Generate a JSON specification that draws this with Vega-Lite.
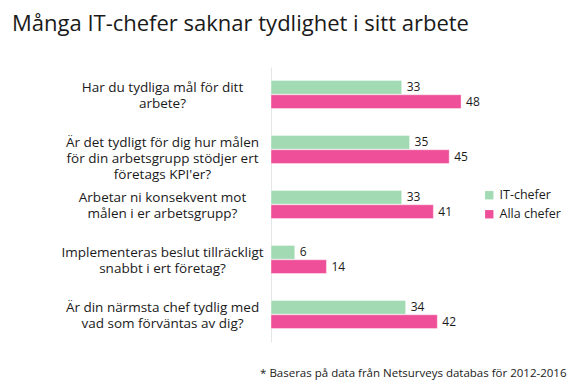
{
  "$schema": "https://vega.github.io/schema/vega-lite/v6.json",
  "width": 295,
  "height": 275,
  "autosize": {"type": "none"},
  "padding": {"left": 271, "top": 67, "right": 10, "bottom": 42},
  "background": "white",
  "config": {"font": "Open Sans", "view": {"stroke": null}},
  "title": {
    "text": "Många IT-chefer saknar tydlighet i sitt arbete",
    "anchor": "start",
    "frame": "group",
    "dx": -259,
    "offset": 14,
    "baseline": "alphabetic",
    "fontSize": 22,
    "fontWeight": "normal",
    "color": "#1a1a1a"
  },
  "data": {
    "values": [
      {"q": "Har du tydliga mål för ditt|arbete?", "serie": "IT-chefer", "v": 33},
      {"q": "Har du tydliga mål för ditt|arbete?", "serie": "Alla chefer", "v": 48},
      {"q": "Är det tydligt för dig hur målen|för din arbetsgrupp stödjer ert|företags KPI'er?", "serie": "IT-chefer", "v": 35},
      {"q": "Är det tydligt för dig hur målen|för din arbetsgrupp stödjer ert|företags KPI'er?", "serie": "Alla chefer", "v": 45},
      {"q": "Arbetar ni konsekvent mot|målen i er arbetsgrupp?", "serie": "IT-chefer", "v": 33},
      {"q": "Arbetar ni konsekvent mot|målen i er arbetsgrupp?", "serie": "Alla chefer", "v": 41},
      {"q": "Implementeras beslut tillräckligt|snabbt i ert företag?", "serie": "IT-chefer", "v": 6},
      {"q": "Implementeras beslut tillräckligt|snabbt i ert företag?", "serie": "Alla chefer", "v": 14},
      {"q": "Är din närmsta chef tydlig med|vad som förväntas av dig?", "serie": "IT-chefer", "v": 34},
      {"q": "Är din närmsta chef tydlig med|vad som förväntas av dig?", "serie": "Alla chefer", "v": 42}
    ]
  },
  "encoding": {
    "y": {
      "field": "q",
      "type": "nominal",
      "sort": null,
      "scale": {"paddingInner": 0.49, "paddingOuter": 0.245},
      "axis": {
        "title": null,
        "ticks": false,
        "domainColor": "#e6e6e6",
        "domainWidth": 1,
        "labelExpr": "split(datum.label, '|')",
        "labelAlign": "center",
        "labelPadding": 109,
        "labelOffset": -7,
        "labelFontSize": 13.5,
        "labelLineHeight": 16,
        "labelColor": "#1a1a1a",
        "labelLimit": 300
      }
    },
    "yOffset": {
      "field": "serie",
      "type": "nominal",
      "sort": ["IT-chefer", "Alla chefer"],
      "scale": {"paddingInner": 0.04}
    },
    "x": {
      "field": "v",
      "type": "quantitative",
      "scale": {"domain": [0, 74.5], "nice": false},
      "axis": {
        "title": "* Baseras på data från Netsurveys databas för 2012-2016",
        "titleFontSize": 11.5,
        "titleFontWeight": "normal",
        "titleColor": "#1a1a1a",
        "titleAnchor": "end",
        "titleBaseline": "alphabetic",
        "titlePadding": 34,
        "domain": false,
        "ticks": false,
        "labels": false,
        "grid": false
      }
    }
  },
  "layer": [
    {
      "mark": {"type": "bar", "stroke": "white", "strokeOpacity": 0.4, "strokeWidth": 1},
      "encoding": {
        "color": {
          "field": "serie",
          "type": "nominal",
          "sort": ["IT-chefer", "Alla chefer"],
          "scale": {"domain": ["IT-chefer", "Alla chefer"], "range": ["#a2dbb3", "#ef4f98"]},
          "legend": {
            "title": null,
            "orient": "none",
            "legendX": 212,
            "legendY": 122,
            "symbolType": "square",
            "symbolSize": 70,
            "symbolStrokeWidth": 0,
            "labelFontSize": 12.5,
            "labelColor": "#1a1a1a",
            "rowPadding": 6
          }
        }
      }
    },
    {
      "mark": {"type": "text", "align": "left", "dx": 5, "fontSize": 12, "color": "#1a1a1a"},
      "encoding": {"text": {"field": "v", "type": "quantitative"}}
    }
  ]
}
